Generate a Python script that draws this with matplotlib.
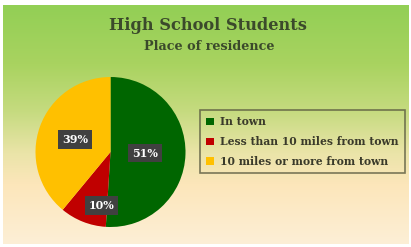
import matplotlib
matplotlib.use("Agg")
import matplotlib.pyplot as plt
import numpy as np
from matplotlib.colors import LinearSegmentedColormap
from matplotlib.patches import Patch

categories = ["In town", "Less than 10 miles from town", "10 miles or more from town"]
values = [51, 10, 39]
colors = ["#006600", "#C00000", "#FFC000"]
title = "High School Students"
subtitle = "Place of residence"

W, H = 411, 247
fig = plt.figure(figsize=(W / 100, H / 100), dpi=100)
fig.patch.set_facecolor("white")

# background gradient
bg = fig.add_axes([3 / W, 3 / H, 405 / W, 239 / H])
bg.set_axis_off()
cmap = LinearSegmentedColormap.from_list(
    "bg",
    [(0.0, "#92CF55"), (0.25, "#A9D360"), (0.45, "#C6DB80"), (0.62, "#EAE4A8"),
     (0.75, "#FCE6BA"), (1.0, "#FDEFD6")])
grad = np.linspace(0, 1, 256).reshape(-1, 1)
bg.imshow(grad, aspect="auto", cmap=cmap, extent=[0, 1, 0, 1], origin="upper")
bg.set_xlim(0, 1)
bg.set_ylim(0, 1)

font = "DejaVu Serif"
tcol = "#3B4A2B"
fig.text(208 / W, 1 - 26 / H, title, ha="center", va="center", fontsize=11.7,
         fontweight="bold", family=font, color=tcol)
fig.text(209 / W, 1 - 47 / H, subtitle, ha="center", va="center", fontsize=9.2,
         fontweight="bold", family=font, color=tcol)

cx, cy, r = 110.5, 152, 75
ax = fig.add_axes([(cx - r) / W, 1 - (cy + r) / H, 2 * r / W, 2 * r / H])
wedges, texts, autotexts = ax.pie(
    values, colors=colors, startangle=90, counterclock=False,
    autopct=lambda p: f"{p:.0f}%", pctdistance=0.5,
    wedgeprops=dict(linewidth=0))
ax.set_aspect("auto")
ax.set_xlim(-1, 1)
ax.set_ylim(-1, 1)
dists = [0.46, 0.72, 0.5]
angles_shift = [0, 12, 0]
for w, t, d, s in zip(wedges, autotexts, dists, angles_shift):
    ang = np.deg2rad((w.theta1 + w.theta2) / 2 + s)
    t.set_position((d * np.cos(ang), d * np.sin(ang)))
    t.set_color("white")
    t.set_fontweight("bold")
    t.set_family(font)
    t.set_fontsize(8)
    t.set_bbox(dict(boxstyle="square,pad=0.35", facecolor="#404040", edgecolor="none"))

handles = [Patch(facecolor=c, edgecolor="none") for c in colors]
leg = fig.legend(handles, categories, loc="upper left",
                 bbox_to_anchor=(200 / W, 1 - 110 / H), frameon=True,
                 prop=dict(family=font, weight="bold", size=7.75),
                 handlelength=0.7, handleheight=0.7, handletextpad=0.6,
                 labelspacing=0.8, borderpad=0.6, borderaxespad=0,
                 fancybox=False, labelcolor="#3A3A2A")
leg.get_frame().set_facecolor("none")
leg.get_frame().set_edgecolor("#5A5A40")
leg.get_frame().set_linewidth(1.2)

fig.savefig("out.png", dpi=100, facecolor=fig.get_facecolor())
